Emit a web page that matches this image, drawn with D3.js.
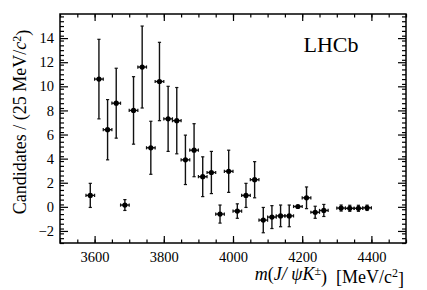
<!DOCTYPE html>
<html>
<head>
<meta charset="utf-8">
<script src="https://cdn.jsdelivr.net/npm/d3@7"></script>
<style>
  html, body { margin: 0; padding: 0; background: #fff; }
  svg text { font-family: "Liberation Serif", "DejaVu Serif", serif; fill: #000; }
</style>
</head>
<body>
<div id="chart"></div>
<script>
// bin centres (MeV/c^2), 25 MeV bins
const masses = [3587.5, 3612.5, 3637.5, 3662.5, 3687.5, 3712.5, 3737.5, 3762.5, 3787.5, 3812.5,
  3837.5, 3862.5, 3887.5, 3912.5, 3937.5, 3962.5, 3987.5, 4012.5, 4037.5, 4062.5,
  4087.5, 4112.5, 4137.5, 4162.5, 4187.5, 4212.5, 4237.5, 4262.5,
  4312.5, 4337.5, 4362.5, 4387.5];
const counts = [0.95, 10.6, 6.4, 8.6, 0.15, 8.0, 11.6, 4.9, 10.4, 7.3,
  7.15, 3.9, 4.7, 2.5, 2.85, -0.6, 2.95, -0.35, 0.95, 2.25,
  -1.1, -0.85, -0.75, -0.75, 0.03, 0.75, -0.45, -0.3,
  -0.1, -0.12, -0.12, -0.08];
const errors = [1.0, 3.3, 2.5, 2.9, 0.45, 2.8, 3.4, 2.2, 3.25, 2.7,
  2.75, 2.05, 2.2, 1.65, 1.75, 0.75, 1.75, 0.6, 1.0, 1.5,
  1.05, 0.95, 0.9, 0.9, 0.08, 0.9, 0.5, 0.5,
  0.25, 0.25, 0.25, 0.22];
const binHalfWidth = 12.5;

const xMajorTicks = [3600, 3800, 4000, 4200, 4400];
const yMajorTicks = [-2, 0, 2, 4, 6, 8, 10, 12, 14];

const width = 427, height = 290;
const frame = { left: 60, right: 406, top: 14, bottom: 243 };

const svg = d3.select('#chart')
  .append('svg')
  .attr('width', width)
  .attr('height', height);

const x = d3.scaleLinear().domain([3500, 4500]).range([frame.left, frame.right]);
const y = d3.scaleLinear().domain([-3, 16]).range([frame.bottom, frame.top]);

const xMinor = d3.range(3500, 4501, 50);
const yMinor = d3.range(-30, 161, 4).map(v => v / 10);

// axes, ticks pointing inward (ROOT style)
function addAxis(axisFn, scale, ticks, size, translate, labelled) {
  const g = svg.append('g')
    .attr('transform', translate)
    .call(axisFn(scale).tickValues(ticks).tickSize(-size).tickPadding(labelled ? 6 : 0)
      .tickFormat(labelled ? d3.format('d') : ''));
  g.select('.domain').remove();
  g.selectAll('line').attr('stroke', '#000').attr('stroke-width', 1.2);
  g.selectAll('text').style('font-size', '14.5px');
  return g;
}

addAxis(d3.axisBottom, x, xMinor, 3.5, `translate(0,${frame.bottom})`, false);
const bx = addAxis(d3.axisBottom, x, xMajorTicks, 7, `translate(0,${frame.bottom})`, true);
bx.selectAll('text').attr('dy', '0.9em');
addAxis(d3.axisTop, x, xMinor, 3.5, `translate(0,${frame.top})`, false);
addAxis(d3.axisTop, x, xMajorTicks, 7, `translate(0,${frame.top})`, false);

addAxis(d3.axisLeft, y, yMinor, 4, `translate(${frame.left},0)`, false);
addAxis(d3.axisLeft, y, yMajorTicks, 8, `translate(${frame.left},0)`, true);
addAxis(d3.axisRight, y, yMinor, 4, `translate(${frame.right},0)`, false);
addAxis(d3.axisRight, y, yMajorTicks, 8, `translate(${frame.right},0)`, false);

// frame
svg.append('rect')
  .attr('x', frame.left)
  .attr('y', frame.top)
  .attr('width', frame.right - frame.left)
  .attr('height', frame.bottom - frame.top)
  .attr('fill', 'none')
  .attr('stroke', '#000')
  .attr('stroke-width', 1.5);

// data points with error bars
const pts = masses.map((m, i) => ({ m: m, v: counts[i], e: errors[i] }));
const pg = svg.append('g');
const cap = 1.6;

pg.selectAll('.ey')
  .data(pts)
  .enter().append('line')
  .attr('x1', d => x(d.m)).attr('x2', d => x(d.m))
  .attr('y1', d => y(d.v + d.e)).attr('y2', d => y(d.v - d.e))
  .attr('stroke', '#111').attr('stroke-width', 1.4);

pg.selectAll('.ex')
  .data(pts)
  .enter().append('line')
  .attr('x1', d => x(d.m - binHalfWidth)).attr('x2', d => x(d.m + binHalfWidth))
  .attr('y1', d => y(d.v)).attr('y2', d => y(d.v))
  .attr('stroke', '#111').attr('stroke-width', 1.4);

// little end caps
pts.forEach(d => {
  [d.v + d.e, d.v - d.e].forEach(v => {
    pg.append('line')
      .attr('x1', x(d.m) - cap).attr('x2', x(d.m) + cap)
      .attr('y1', y(v)).attr('y2', y(v))
      .attr('stroke', '#111').attr('stroke-width', 1.2);
  });
  [d.m - binHalfWidth, d.m + binHalfWidth].forEach(m => {
    pg.append('line')
      .attr('x1', x(m)).attr('x2', x(m))
      .attr('y1', y(d.v) - cap).attr('y2', y(d.v) + cap)
      .attr('stroke', '#111').attr('stroke-width', 1.2);
  });
});

pg.selectAll('circle')
  .data(pts)
  .enter().append('circle')
  .attr('cx', d => x(d.m))
  .attr('cy', d => y(d.v))
  .attr('r', 2.6)
  .attr('fill', '#000');

// labels
svg.append('text')
  .attr('x', 331)
  .attr('y', 52)
  .attr('text-anchor', 'middle')
  .style('font-size', '22px')
  .text('LHCb');

const yTitle = svg.append('text')
  .attr('transform', 'translate(26,122) rotate(-90)')
  .attr('text-anchor', 'middle')
  .style('font-size', '18px');
yTitle.append('tspan').text('Candidates / (25 MeV/');
yTitle.append('tspan').style('font-style', 'italic').text('c');
yTitle.append('tspan').attr('dy', '-0.45em').style('font-size', '12px').text('2');
yTitle.append('tspan').attr('dy', '0.45em').text(')');

const xTitle = svg.append('text')
  .attr('x', frame.right - 2)
  .attr('y', 280)
  .attr('text-anchor', 'end')
  .style('font-size', '18px');
xTitle.append('tspan').style('font-style', 'italic').text('m');
xTitle.append('tspan').text('(');
xTitle.append('tspan').style('font-style', 'italic').text('J/\u00a0ψK');
xTitle.append('tspan').attr('dy', '-0.45em').style('font-size', '12px').text('±');
xTitle.append('tspan').attr('dy', '0.45em').text(')\u00a0\u00a0[MeV/c');
xTitle.append('tspan').attr('dy', '-0.45em').style('font-size', '12px').text('2');
xTitle.append('tspan').attr('dy', '0.45em').text(']');
</script>
</body>
</html>
